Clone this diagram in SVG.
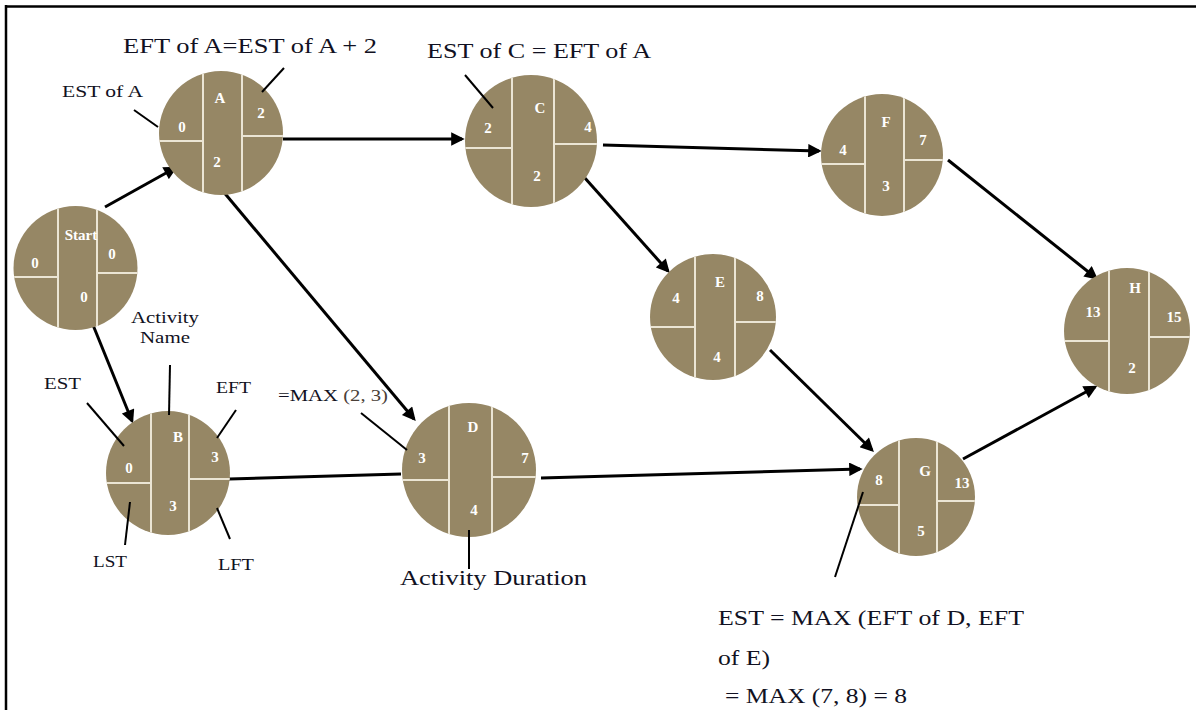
<svg xmlns="http://www.w3.org/2000/svg" width="1196" height="710" viewBox="0 0 1196 710">
<style>
.node{fill:#968765}
.div{stroke:#ebe5d4;stroke-width:2;fill:none}
.nt{font-family:"Liberation Serif",serif;font-weight:bold;font-size:15px;fill:#ffffff;text-anchor:middle}
.conn{stroke:#000;stroke-width:3;fill:none}
.ann{stroke:#000;stroke-width:2;fill:none}
.lbl{font-family:"Liberation Serif",serif;fill:#111122}
</style>
<defs>
<marker id="arr" viewBox="0 0 10 10" refX="8" refY="5" markerWidth="5" markerHeight="4.5" orient="auto" markerUnits="strokeWidth">
<path d="M0,0 L10,5 L0,10 z" fill="#000"/>
</marker>
<clipPath id="cStart"><circle cx="75.5" cy="268" r="62"/></clipPath>
<clipPath id="cA"><circle cx="221" cy="133" r="62"/></clipPath>
<clipPath id="cC"><circle cx="531" cy="141" r="66"/></clipPath>
<clipPath id="cF"><circle cx="882" cy="155" r="61"/></clipPath>
<clipPath id="cE"><circle cx="713" cy="317" r="63"/></clipPath>
<clipPath id="cH"><circle cx="1127" cy="331" r="63"/></clipPath>
<clipPath id="cB"><circle cx="168" cy="473" r="62"/></clipPath>
<clipPath id="cD"><circle cx="469" cy="470" r="67"/></clipPath>
<clipPath id="cG"><circle cx="916" cy="497" r="59"/></clipPath>
</defs>
<rect x="0" y="0" width="1196" height="710" fill="#ffffff"/>
<g id="frame">
<line x1="5" y1="6.5" x2="1196" y2="6.5" stroke="#000" stroke-width="2.5"/>
<line x1="6" y1="5" x2="6" y2="710" stroke="#000" stroke-width="2.5"/>
</g>
<g id="connectors">
<line class="conn" x1="105" y1="207" x2="175" y2="168" marker-end="url(#arr)"/>
<line class="conn" x1="93" y1="325" x2="132" y2="421" marker-end="url(#arr)"/>
<line class="conn" x1="283" y1="139" x2="462" y2="139" marker-end="url(#arr)"/>
<line class="conn" x1="222" y1="190" x2="414" y2="419" marker-end="url(#arr)"/>
<line class="conn" x1="603" y1="145" x2="819" y2="151" marker-end="url(#arr)"/>
<line class="conn" x1="584" y1="177" x2="668" y2="271" marker-end="url(#arr)"/>
<line class="conn" x1="948" y1="160" x2="1096" y2="278" marker-end="url(#arr)"/>
<line class="conn" x1="229" y1="479" x2="401" y2="474"/>
<line class="conn" x1="541" y1="478" x2="860" y2="469" marker-end="url(#arr)"/>
<line class="conn" x1="770" y1="350" x2="872" y2="450" marker-end="url(#arr)"/>
<line class="conn" x1="963" y1="459" x2="1095" y2="387" marker-end="url(#arr)"/>
</g>
<g id="node-start">
<circle class="node" cx="75.5" cy="268" r="62"/>
<g clip-path="url(#cStart)" class="div">
<line x1="58" y1="200" x2="58" y2="340"/><line x1="97" y1="200" x2="97" y2="340"/>
<line x1="10" y1="277" x2="58" y2="277"/><line x1="97" y1="273" x2="140" y2="273"/>
</g>
<text class="nt" x="81" y="240" font-size="16">Start</text>
<text class="nt" x="35" y="268">0</text><text class="nt" x="112" y="259">0</text><text class="nt" x="84" y="302">0</text>
</g>
<g id="node-A">
<circle class="node" cx="221" cy="133" r="62"/>
<g clip-path="url(#cA)" class="div">
<line x1="203" y1="65" x2="203" y2="200"/><line x1="242" y1="65" x2="242" y2="200"/>
<line x1="155" y1="141" x2="203" y2="141"/><line x1="242" y1="136" x2="290" y2="136"/>
</g>
<text class="nt" x="220" y="103">A</text><text class="nt" x="182" y="132">0</text><text class="nt" x="261" y="118">2</text><text class="nt" x="217" y="167">2</text>
</g>
<g id="node-C">
<circle class="node" cx="531" cy="141" r="66"/>
<g clip-path="url(#cC)" class="div">
<line x1="512" y1="70" x2="512" y2="215"/><line x1="554" y1="70" x2="554" y2="215"/>
<line x1="460" y1="148" x2="512" y2="148"/><line x1="554" y1="144" x2="600" y2="144"/>
</g>
<text class="nt" x="540" y="113">C</text><text class="nt" x="488" y="133">2</text><text class="nt" x="588" y="132">4</text><text class="nt" x="537" y="181">2</text>
</g>
<g id="node-F">
<circle class="node" cx="882" cy="155" r="61"/>
<g clip-path="url(#cF)" class="div">
<line x1="865" y1="90" x2="865" y2="220"/><line x1="904" y1="90" x2="904" y2="220"/>
<line x1="815" y1="164" x2="865" y2="164"/><line x1="904" y1="160" x2="950" y2="160"/>
</g>
<text class="nt" x="886" y="127">F</text><text class="nt" x="843" y="155">4</text><text class="nt" x="923" y="145">7</text><text class="nt" x="886" y="191">3</text>
</g>
<g id="node-E">
<circle class="node" cx="713" cy="317" r="63"/>
<g clip-path="url(#cE)" class="div">
<line x1="695" y1="250" x2="695" y2="385"/><line x1="735" y1="250" x2="735" y2="385"/>
<line x1="645" y1="327" x2="695" y2="327"/><line x1="735" y1="322" x2="780" y2="322"/>
</g>
<text class="nt" x="720" y="287">E</text><text class="nt" x="676" y="303">4</text><text class="nt" x="760" y="301">8</text><text class="nt" x="717" y="362">4</text>
</g>
<g id="node-H">
<circle class="node" cx="1127" cy="331" r="63"/>
<g clip-path="url(#cH)" class="div">
<line x1="1109" y1="265" x2="1109" y2="400"/><line x1="1149" y1="265" x2="1149" y2="400"/>
<line x1="1060" y1="341" x2="1109" y2="341"/><line x1="1149" y1="337" x2="1195" y2="337"/>
</g>
<text class="nt" x="1135" y="293">H</text><text class="nt" x="1093" y="317">13</text><text class="nt" x="1174" y="322">15</text><text class="nt" x="1132" y="373">2</text>
</g>
<g id="node-B">
<circle class="node" cx="168" cy="473" r="62"/>
<g clip-path="url(#cB)" class="div">
<line x1="151" y1="405" x2="151" y2="540"/><line x1="189" y1="405" x2="189" y2="540"/>
<line x1="100" y1="483" x2="151" y2="483"/><line x1="189" y1="479" x2="235" y2="479"/>
</g>
<text class="nt" x="178" y="442">B</text><text class="nt" x="129" y="473">0</text><text class="nt" x="215" y="462">3</text><text class="nt" x="173" y="511">3</text>
</g>
<g id="node-D">
<circle class="node" cx="469" cy="470" r="67"/>
<g clip-path="url(#cD)" class="div">
<line x1="449" y1="400" x2="449" y2="540"/><line x1="492" y1="400" x2="492" y2="540"/>
<line x1="395" y1="480" x2="449" y2="480"/><line x1="492" y1="477" x2="540" y2="477"/>
</g>
<text class="nt" x="473" y="432">D</text><text class="nt" x="422" y="463">3</text><text class="nt" x="525" y="463">7</text><text class="nt" x="474" y="515">4</text>
</g>
<g id="node-G">
<circle class="node" cx="916" cy="497" r="59"/>
<g clip-path="url(#cG)" class="div">
<line x1="899" y1="435" x2="899" y2="560"/><line x1="937" y1="435" x2="937" y2="560"/>
<line x1="850" y1="505" x2="899" y2="505"/><line x1="937" y1="501" x2="980" y2="501"/>
</g>
<text class="nt" x="925" y="476">G</text><text class="nt" x="879" y="485">8</text><text class="nt" x="962" y="488">13</text><text class="nt" x="921" y="536">5</text>
</g>
<g id="annotations">
<line class="ann" x1="134" y1="110" x2="158" y2="127"/>
<line class="ann" x1="284" y1="68" x2="262" y2="92"/>
<line class="ann" x1="465" y1="75" x2="493" y2="108"/>
<line class="ann" x1="170" y1="365" x2="169" y2="415"/>
<line class="ann" x1="87" y1="403" x2="124" y2="446"/>
<line class="ann" x1="236" y1="410" x2="217" y2="438"/>
<line class="ann" x1="130" y1="502" x2="125" y2="545"/>
<line class="ann" x1="217" y1="508" x2="230" y2="539"/>
<line class="ann" x1="361" y1="413" x2="407" y2="450"/>
<line class="ann" x1="469" y1="530" x2="469" y2="569"/>
<line class="ann" x1="863" y1="492" x2="835" y2="577"/>
</g>
<g id="labels">
<text class="lbl" x="123" y="53" font-size="22" textLength="254" lengthAdjust="spacingAndGlyphs">EFT of A=EST of A + 2</text>
<text class="lbl" x="427" y="58" font-size="22" textLength="224" lengthAdjust="spacingAndGlyphs">EST of C = EFT of A</text>
<text class="lbl" x="62" y="97" font-size="17" textLength="81" lengthAdjust="spacingAndGlyphs">EST of A</text>
<text class="lbl" x="131" y="323" font-size="17" textLength="68" lengthAdjust="spacingAndGlyphs">Activity</text>
<text class="lbl" x="140" y="343" font-size="17" textLength="50" lengthAdjust="spacingAndGlyphs">Name</text>
<text class="lbl" x="44" y="389" font-size="17" textLength="37" lengthAdjust="spacingAndGlyphs">EST</text>
<text class="lbl" x="216" y="393" font-size="17" textLength="35" lengthAdjust="spacingAndGlyphs">EFT</text>
<text class="lbl" x="93" y="567" font-size="17" textLength="34" lengthAdjust="spacingAndGlyphs">LST</text>
<text class="lbl" x="218" y="570" font-size="17" textLength="36" lengthAdjust="spacingAndGlyphs">LFT</text>
<text class="lbl" x="278" y="401" font-size="17" textLength="110" lengthAdjust="spacingAndGlyphs">=MAX <tspan fill="#4a4038">(2, 3)</tspan></text>
<text class="lbl" x="400" y="585" font-size="22" textLength="187" lengthAdjust="spacingAndGlyphs">Activity Duration</text>
<text class="lbl" x="718" y="625" font-size="22" textLength="306" lengthAdjust="spacingAndGlyphs">EST = MAX (EFT of D, EFT</text>
<text class="lbl" x="718" y="665" font-size="22" textLength="52" lengthAdjust="spacingAndGlyphs">of E)</text>
<text class="lbl" x="725" y="703" font-size="22" textLength="182" lengthAdjust="spacingAndGlyphs">= MAX (7, 8) = 8</text>
</g>
</svg>
